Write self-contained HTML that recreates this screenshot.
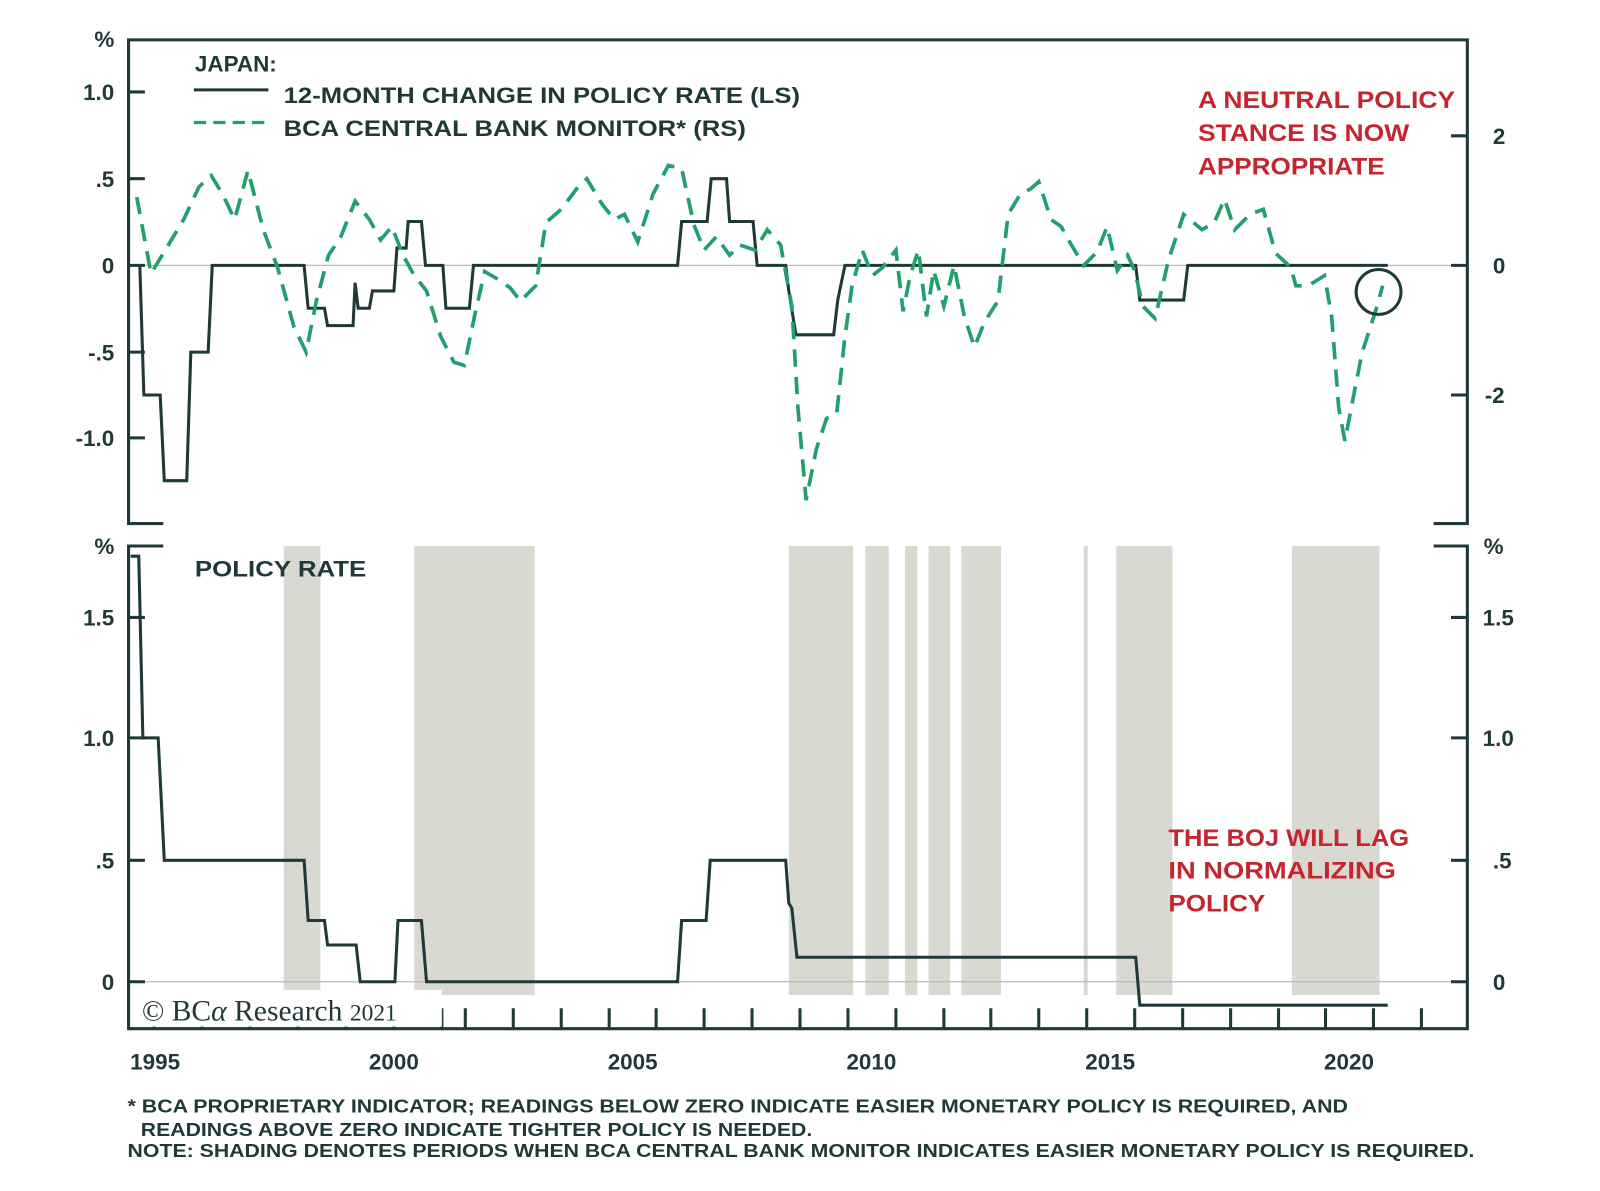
<!DOCTYPE html>
<html><head><meta charset="utf-8"><style>
html,body{margin:0;padding:0;background:#fff;}
svg{display:block;}
text{font-family:"Liberation Sans",sans-serif;font-weight:bold;}
</style></head><body>
<svg width="1600" height="1191" viewBox="0 0 1568 1167" xmlns="http://www.w3.org/2000/svg">
<rect width="1568" height="1167" fill="#fff"/>
<g fill="#d9d9d1">
<rect x="278" y="535" width="36" height="440"/>
<rect x="406" y="535" width="118" height="440"/>
<rect x="773" y="535" width="63" height="440"/>
<rect x="848" y="535" width="23" height="440"/>
<rect x="887" y="535" width="12" height="440"/>
<rect x="910" y="535" width="21" height="440"/>
<rect x="942" y="535" width="39" height="440"/>
<rect x="1062" y="535" width="4" height="440"/>
<rect x="1094" y="535" width="55" height="440"/>
<rect x="1266" y="535" width="86" height="440"/>
</g>
<line x1="126" y1="260" x2="1437" y2="260" stroke="#bbb" stroke-width="1.2"/>
<line x1="126" y1="962" x2="1437" y2="962" stroke="#bbb" stroke-width="1.2"/>
<g stroke="#1f3838" stroke-width="3" fill="none">
<polyline points="160,513 126,513 126,39 1438,39 1438,513 1405,513"/>
<polyline points="160,535 126,535 126,1008 1438,1008 1438,535 1405,535"/>
<path d="M126,90h16M126,175h16M126,260h16M126,345h16M126,429h16"/>
<path d="M1438,133h-16M1438,260h-16M1438,387h-16"/>
<path d="M126,605h16M126,723h16M126,843h16M126,962h16"/>
<path d="M1438,605h-16M1438,723h-16M1438,843h-16M1438,962h-16"/>
<path d="M151,1008v-20M198,1008v-20M245,1008v-20M292,1008v-20M339,1008v-20M386,1008v-20M433,1008v-20M456,1008v-20M503,1008v-20M550,1008v-20M597,1008v-20M643,1008v-20M690,1008v-20M737,1008v-20M784,1008v-20M831,1008v-20M878,1008v-20M925,1008v-20M971,1008v-20M1018,1008v-20M1065,1008v-20M1112,1008v-20M1159,1008v-20M1206,1008v-20M1253,1008v-20M1299,1008v-20M1346,1008v-20M1393,1008v-20"/>
</g>
<rect x="133" y="970" width="300" height="36" fill="#fff"/>
<text x="139" y="1000" style="font-family:'Liberation Serif',serif;font-weight:normal" font-size="29" fill="#1f3838">© BC<tspan font-style="italic">α</tspan> Research <tspan font-size="23">2021</tspan></text>
<polyline fill="none" stroke="#1f3838" stroke-width="3" points="128,545 136,545 140,723 155,723 161,843 298,843 302,902 318,902 321,926 349,926 353,962 387,962 390,902 413,902 418,962 664,962 668,902 692,902 696,843 770,843 773,885 776,890 781,938 1113,938 1117,985 1360,985"/>
<polyline fill="none" stroke="#1f3838" stroke-width="3" points="137,260 141,387 157,387 161,471 183,471 187,345 204,345 208,260 298,260 302,302 318,302 321,319 346,319 348,277 351,302 362,302 365,285 386,285 389,243 398,243 400,217 413,217 417,260 434,260 437,302 460,302 464,260 664,260 668,217 693,217 697,175 712,175 715,217 738,217 742,260 770,260 773,285 780,328 817,328 821,294 828,260 1113,260 1117,294 1160,294 1164,260 1360,260"/>
<polyline fill="none" stroke="#21a06b" stroke-width="3.6" stroke-dasharray="17,10" points="134,193 148,268 165,240 180,215 195,183 207,172 218,190 230,215 243,167 258,225 272,262 288,320 300,345 310,295 322,250 334,232 348,197 362,215 373,235 384,222 395,250 406,270 418,285 432,330 445,355 455,358 465,310 475,266 487,273 500,282 510,295 525,280 535,218 550,205 565,185 575,175 590,200 602,215 612,210 625,237 640,190 655,162 668,165 680,220 690,245 702,232 715,250 725,240 740,245 752,225 765,240 776,300 782,400 790,490 800,440 810,410 820,405 828,330 835,280 845,245 855,270 865,262 878,245 885,305 892,270 900,245 908,310 915,265 925,300 935,260 945,310 955,340 965,315 978,295 988,210 1000,190 1010,185 1018,178 1030,215 1040,222 1050,240 1062,260 1075,247 1085,222 1095,265 1105,250 1112,265 1120,300 1132,312 1145,255 1160,210 1178,225 1190,218 1200,195 1210,225 1225,210 1238,205 1250,248 1265,262 1270,280 1282,280 1298,270 1305,310 1312,400 1318,432 1328,380 1335,345 1348,305 1355,280"/>
<circle cx="1351" cy="286" r="22" fill="none" stroke="#1f3838" stroke-width="3"/>
<g fill="#1f3838" font-size="22">
<text x="191" y="70">JAPAN:</text>
<line x1="190" y1="88" x2="263" y2="88" stroke="#1f3838" stroke-width="3"/>
<line x1="190" y1="120" x2="263" y2="120" stroke="#21a06b" stroke-width="3.2" stroke-dasharray="12,7"/>
<text x="278" y="101" textLength="506" lengthAdjust="spacingAndGlyphs">12-MONTH CHANGE IN POLICY RATE (LS)</text>
<text x="278" y="133" textLength="453" lengthAdjust="spacingAndGlyphs">BCA CENTRAL BANK MONITOR* (RS)</text>
<text x="191" y="565" textLength="168" lengthAdjust="spacingAndGlyphs">POLICY RATE</text>
</g>
<g fill="#1f3838" font-size="22" text-anchor="end">
<text x="112" y="46">%</text>
<text x="112" y="98">1.0</text>
<text x="112" y="183">.5</text>
<text x="112" y="268">0</text>
<text x="112" y="353">-.5</text>
<text x="112" y="437">-1.0</text>
<text x="112" y="543">%</text>
<text x="112" y="613">1.5</text>
<text x="112" y="731">1.0</text>
<text x="112" y="851">.5</text>
<text x="112" y="970">0</text>
</g>
<g fill="#1f3838" font-size="22">
<text x="1463" y="141">2</text>
<text x="1463" y="268">0</text>
<text x="1455" y="395">-2</text>
<text x="1454" y="543">%</text>
<text x="1453" y="613">1.5</text>
<text x="1453" y="731">1.0</text>
<text x="1463" y="851">.5</text>
<text x="1463" y="970">0</text>
</g>
<g fill="#1f3838" font-size="22" text-anchor="middle">
<text x="152" y="1048">1995</text>
<text x="386" y="1048">2000</text>
<text x="620" y="1048">2005</text>
<text x="854" y="1048">2010</text>
<text x="1088" y="1048">2015</text>
<text x="1322" y="1048">2020</text>
</g>
<g fill="#c3262e" font-size="24" font-weight="normal">
<text x="1174" y="106" textLength="252" lengthAdjust="spacingAndGlyphs">A NEUTRAL POLICY</text>
<text x="1174" y="138" textLength="207" lengthAdjust="spacingAndGlyphs">STANCE IS NOW</text>
<text x="1174" y="171" textLength="183" lengthAdjust="spacingAndGlyphs">APPROPRIATE</text>
<text x="1145" y="829" textLength="236" lengthAdjust="spacingAndGlyphs">THE BOJ WILL LAG</text>
<text x="1145" y="861" textLength="223" lengthAdjust="spacingAndGlyphs">IN NORMALIZING</text>
<text x="1145" y="893" textLength="95" lengthAdjust="spacingAndGlyphs">POLICY</text>
</g>
<g fill="#1f3838" font-size="18">
<text x="125" y="1090" textLength="1196" lengthAdjust="spacingAndGlyphs">* BCA PROPRIETARY INDICATOR; READINGS BELOW ZERO INDICATE EASIER MONETARY POLICY IS REQUIRED, AND</text>
<text x="138" y="1113" textLength="658" lengthAdjust="spacingAndGlyphs">READINGS ABOVE ZERO INDICATE TIGHTER POLICY IS NEEDED.</text>
<text x="125" y="1134" textLength="1320" lengthAdjust="spacingAndGlyphs">NOTE: SHADING DENOTES PERIODS WHEN BCA CENTRAL BANK MONITOR INDICATES EASIER MONETARY POLICY IS REQUIRED.</text>
</g>
</svg>
</body></html>
